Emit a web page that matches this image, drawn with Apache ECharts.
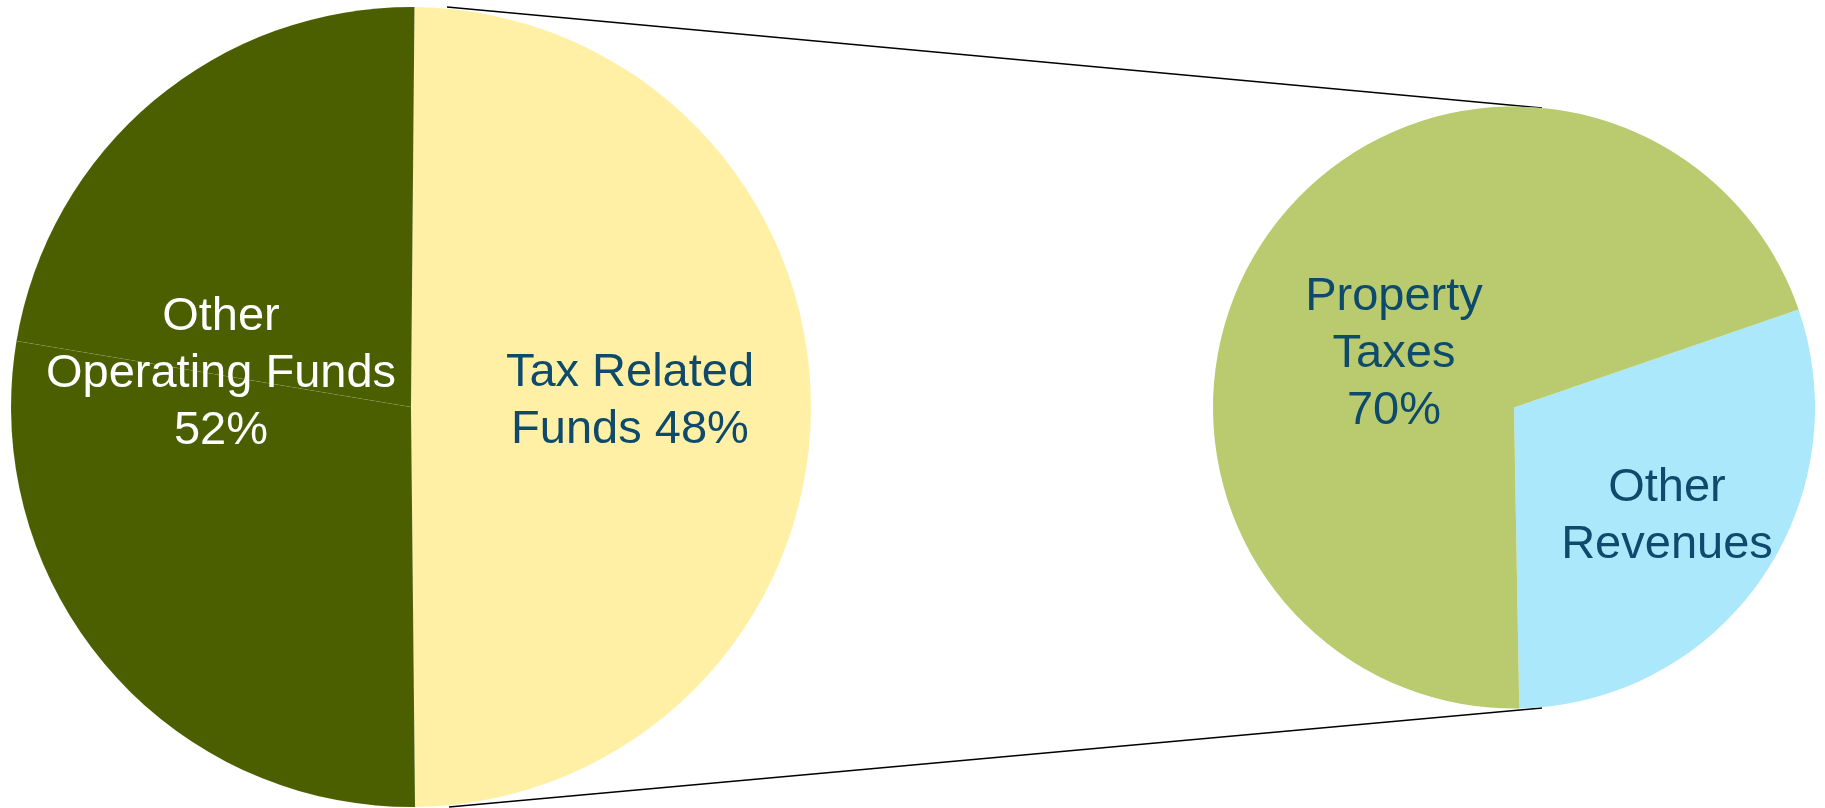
<!DOCTYPE html>
<html>
<head>
<meta charset="utf-8">
<title>Funds breakdown</title>
<script src="https://cdn.jsdelivr.net/npm/echarts@6/dist/echarts.min.js"></script>
<style>
    html, body { margin: 0; padding: 0; background: #ffffff; }
    #chart { width: 1825px; height: 808px; }
</style>
</head>
<body>
<div id="chart"></div>
<script>
// main pie (share of slice angles)
const mainNames = ['Tax Related Funds', 'Other Operating Funds', 'Other Operating Funds'];
const mainValues = [49.7, 27.8, 22.5];
const mainLabels = ['Tax Related\nFunds 48%', '', 'Other\nOperating Funds\n52%'];

// secondary pie (breakdown of tax related funds)
const detailNames = ['Other Revenues', 'Property Taxes'];
const detailValues = [30, 70];
const detailLabels = ['Other\nRevenues', 'Property\nTaxes\n70%'];

// colours
const mainColors = ['#fff0a6', '#4b5f00', '#4b5f00'];
const detailColors = ['#ace8fc', '#b9cb6e'];
const mainLabelColors = ['#0d4a6b', '#ffffff', '#ffffff'];

window.onload = function () {
    let chart = echarts.init(document.getElementById('chart'));

    // label anchors (layout only)
    const labelPos = [
        [[630, 402], null, [221, 374]],
        [[1667, 517], [1394, 354]]
    ];

    let mainData = mainValues.map(function (v, i) {
        return {
            name: mainNames[i],
            value: v,
            itemStyle: { color: mainColors[i] },
            label: {
                show: mainLabels[i] !== '',
                formatter: mainLabels[i],
                color: mainLabelColors[i]
            }
        };
    });

    let detailData = detailValues.map(function (v, i) {
        return {
            name: detailNames[i],
            value: v,
            itemStyle: { color: detailColors[i] },
            label: { formatter: detailLabels[i], color: '#0d4a6b' }
        };
    });

    let labelFont = {
        position: 'inside',
        fontFamily: '"Liberation Sans", Arial, sans-serif',
        fontSize: 47,
        lineHeight: 57,
        align: 'center'
    };

    let option = {
        backgroundColor: '#ffffff',
        animation: false,
        series: [
            {
                type: 'pie',
                center: [411, 407],
                radius: 400,
                startAngle: 89.5,
                clockwise: true,
                silent: true,
                itemStyle: { borderColor: 'rgba(255,255,255,0.12)', borderWidth: 0.5 },
                label: labelFont,
                labelLine: { show: false },
                labelLayout: function (p) {
                    let pos = labelPos[0][p.dataIndex];
                    return pos ? { x: pos[0], y: pos[1], align: 'center', verticalAlign: 'middle' } : {};
                },
                data: mainData
            },
            {
                type: 'pie',
                center: [1514, 407.5],
                radius: 301,
                startAngle: 19,
                clockwise: true,
                silent: true,
                label: labelFont,
                labelLine: { show: false },
                labelLayout: function (p) {
                    let pos = labelPos[1][p.dataIndex];
                    return { x: pos[0], y: pos[1], align: 'center', verticalAlign: 'middle' };
                },
                data: detailData
            }
        ],
        // connector lines between the two pies
        graphic: [
            {
                type: 'line',
                shape: { x1: 447, y1: 7, x2: 1542, y2: 108 },
                style: { stroke: '#000000', lineWidth: 1.5 }
            },
            {
                type: 'line',
                shape: { x1: 449, y1: 807, x2: 1542, y2: 708 },
                style: { stroke: '#000000', lineWidth: 1.5 }
            }
        ]
    };

    chart.setOption(option);
};
</script>
</body>
</html>
